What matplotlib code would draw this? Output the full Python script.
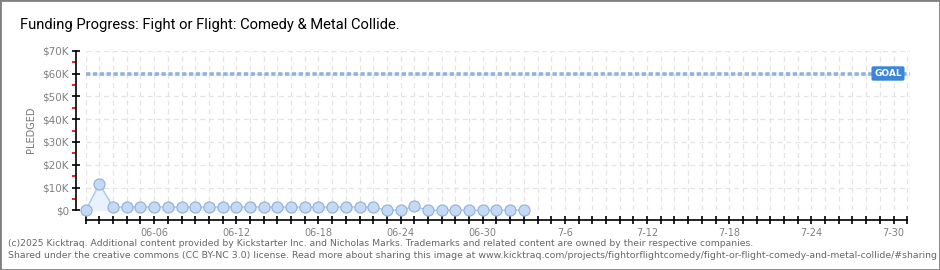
import numpy as np
import pandas as pd
import matplotlib
matplotlib.use("Agg")
import matplotlib.pyplot as plt
import matplotlib.dates as mdates
from matplotlib.patches import Rectangle

# data
start_day = "2025-06-01"
end_day = "2025-07-31"
pledged = [0, 11600, 1450, 1450, 1450, 1450, 1450, 1450, 1450, 1450,
           1450, 1450, 1450, 1450, 1450, 1450, 1450, 1450, 1450, 1450,
           1450, 1450, 0, 0, 1750, 0, 0, 0, 0, 0,
           0, 0, 0]
goal = 60000
label_days = ["2025-06-06", "2025-06-12", "2025-06-18", "2025-06-24", "2025-06-30",
              "2025-07-06", "2025-07-12", "2025-07-18", "2025-07-24", "2025-07-30"]
label_text = ["06-06", "06-12", "06-18", "06-24", "06-30",
              "7-6", "7-12", "7-18", "7-24", "7-30"]
y_ticks = [0, 10000, 20000, 30000, 40000, 50000, 60000, 70000]
y_labels = ["$0", "$10K", "$20K", "$30K", "$40K", "$50K", "$60K", "$70K"]

title = "Funding Progress: Fight or Flight: Comedy & Metal Collide."
foot1 = ("(c)2025 Kicktraq. Additional content provided by Kickstarter Inc. and Nicholas Marks. "
         "Trademarks and related content are owned by their respective companies.")
foot2 = ("Shared under the creative commons (CC BY-NC 3.0) license. Read more about sharing this image at "
         "www.kicktraq.com/projects/fightorflightcomedy/fight-or-flight-comedy-and-metal-collide/#sharing")

days = pd.date_range(start_day, periods=len(pledged), freq="D")
d0 = mdates.date2num(pd.Timestamp(start_day))
d1 = mdates.date2num(pd.Timestamp(end_day))

W, H = 940, 270
fig = plt.figure(figsize=(W / 100, H / 100), dpi=100)
fig.patch.set_facecolor("white")

# plot area: y=0 at 210px, 70K at 51px, first day at 86px
ax = fig.add_axes([85.7 / W, 1 - 210.3 / H, (910 - 85.7) / W, (210.3 - 50.7) / H])
ax.set_xlim(d0, d1 + 0.2)
ax.set_ylim(0, 70000)

for s in ["top", "right"]:
    ax.spines[s].set_visible(False)
ax.spines["left"].set_position(("outward", 7))
ax.spines["bottom"].set_position(("outward", 7))
ax.spines["left"].set_bounds(0, 70000)
ax.spines["bottom"].set_bounds(d0, d1)
ax.spines["left"].set_linewidth(1.2)
ax.spines["bottom"].set_linewidth(1.2)

ax.xaxis.set_minor_locator(mdates.DayLocator(interval=1))
ax.set_xticks([mdates.date2num(pd.Timestamp(d)) for d in label_days])
ax.set_xticklabels(label_text)
ax.set_yticks(y_ticks)
ax.set_yticklabels(y_labels)
ax.set_yticks(np.arange(5000, 70000, 10000), minor=True)

# dashed grid, one line per day and per 10K
ax.grid(False)
for d in pd.date_range(start_day, end_day, freq="D"):
    ax.axvline(d, color="#e4e4e4", lw=0.9, dashes=(4, 3), zorder=0)
for v in y_ticks:
    ax.axhline(v, color="#e4e4e4", lw=0.9, dashes=(4, 3), zorder=0)

ax.tick_params(axis="x", which="both", direction="inout", length=6, width=1.2,
               color="black", labelsize=7, labelcolor="#808080", pad=3)
ax.tick_params(axis="y", which="major", direction="inout", length=6, width=1.2,
               color="black", labelsize=7.5, labelcolor="#808080", pad=2)
ax.tick_params(axis="y", which="minor", direction="out", length=3, width=1.2,
               color="#e00000")

# goal line
ax.axhline(goal, color="#8fb2de", lw=2.6, dashes=(1.2, 0.7), zorder=2)
ax.annotate("GOAL", xy=(1, goal), xycoords=("axes fraction", "data"),
            xytext=(-22, 0), textcoords="offset pixels", ha="center", va="center",
            fontsize=6.5, fontweight="bold", color="white", zorder=5,
            bbox=dict(boxstyle="round,pad=0.3,rounding_size=0.2", fc="#3b86d6", ec="none"))

# pledged series
ax.fill_between(days, pledged, 0, color="#e8f1fc", zorder=1)
ax.plot(days, pledged, color="#a8c8ee", lw=1, marker="o", ms=8,
        mfc="#c3daf6", mec="#93afd4", mew=0.8, clip_on=False, zorder=3)

fig.text(20 / W, 1 - 25 / H, title, fontsize=10.6, family="Roboto",
         color="#000000", va="center", ha="left")
fig.text(31 / W, 1 - 130 / H, "PLEDGED", rotation=90, fontsize=7, color="#777777",
         va="center", ha="center")
fig.text(8 / W, 1 - 243 / H, foot1, fontsize=6.7, color="#666666", va="center", ha="left")
fig.text(8 / W, 1 - 255 / H, foot2, fontsize=6.75, color="#666666", va="center", ha="left")

fig.patches.append(Rectangle((0, 0), 1, 1, transform=fig.transFigure, fill=False,
                             ec="#808080", lw=2))

fig.savefig("out.png", dpi=100)
